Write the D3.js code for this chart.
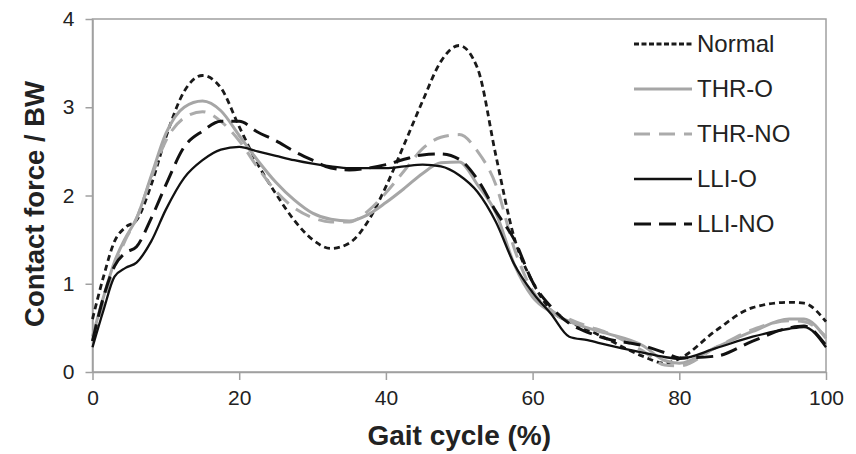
<!DOCTYPE html>
<html>
<head>
<meta charset="utf-8">
<script src="https://cdn.jsdelivr.net/npm/d3@7"></script>
<style>
  body { margin: 0; background: #fff; }
  svg text { font-family: "Liberation Sans", Arial, sans-serif; }
</style>
</head>
<body>
<div id="chart"></div>
<script>
// gait cycle positions (%)
var gait = [0, 1.5, 3, 4.5, 6, 8, 10, 12.5, 15, 17.5, 20, 22.5, 25, 27.5, 30, 32.5, 35, 37.5, 40,
            42.5, 45, 47.5, 50, 52.5, 55, 57.5, 60, 62.5, 65, 67.5, 70, 75, 78, 80, 85, 90, 95, 97, 100];

// contact force / BW for each group
var normal = [0.60, 1.08, 1.48, 1.64, 1.72, 2.12, 2.66, 3.18, 3.36, 3.22, 2.78, 2.36, 2.02, 1.72, 1.50, 1.40, 1.46, 1.70, 2.10,
              2.58, 3.07, 3.52, 3.70, 3.44, 2.45, 1.52, 1.02, 0.70, 0.57, 0.48, 0.38, 0.18, 0.10, 0.15, 0.47, 0.73, 0.79, 0.78, 0.57];
var thrO   = [0.40, 0.85, 1.25, 1.52, 1.74, 2.22, 2.70, 3.00, 3.07, 2.96, 2.68, 2.40, 2.15, 1.95, 1.80, 1.73, 1.71, 1.78, 1.92,
              2.08, 2.25, 2.37, 2.38, 2.12, 1.80, 1.22, 0.85, 0.68, 0.57, 0.50, 0.44, 0.30, 0.13, 0.10, 0.28, 0.46, 0.60, 0.60, 0.38];
var thrNO  = [0.35, 0.80, 1.20, 1.50, 1.74, 2.20, 2.62, 2.88, 2.95, 2.84, 2.62, 2.32, 2.05, 1.86, 1.75, 1.70, 1.70, 1.82, 2.03,
              2.28, 2.53, 2.66, 2.69, 2.50, 2.12, 1.40, 0.92, 0.70, 0.60, 0.52, 0.45, 0.24, 0.08, 0.07, 0.28, 0.48, 0.58, 0.57, 0.40];
var lliO   = [0.28, 0.70, 1.08, 1.18, 1.24, 1.48, 1.84, 2.20, 2.40, 2.52, 2.55, 2.50, 2.45, 2.40, 2.36, 2.33, 2.31, 2.31, 2.31,
              2.33, 2.35, 2.33, 2.23, 2.04, 1.70, 1.22, 0.90, 0.66, 0.40, 0.36, 0.31, 0.22, 0.17, 0.15, 0.27, 0.40, 0.49, 0.51, 0.28];
var lliNO  = [0.35, 0.85, 1.20, 1.35, 1.42, 1.74, 2.12, 2.55, 2.73, 2.84, 2.84, 2.72, 2.62, 2.50, 2.40, 2.31, 2.29, 2.31, 2.35,
              2.41, 2.46, 2.47, 2.41, 2.18, 1.82, 1.50, 1.02, 0.74, 0.55, 0.45, 0.38, 0.30, 0.22, 0.16, 0.18, 0.35, 0.50, 0.52, 0.30];

var seriesNames = ["Normal", "THR-O", "THR-NO", "LLI-O", "LLI-NO"];
var xTicks = [0, 20, 40, 60, 80, 100];
var yTicks = [0, 1, 2, 3, 4];

var styles = {
  "Normal": {color: "#1a1a1a", width: 2.8, dash: "6,4"},
  "THR-O":  {color: "#a6a6a6", width: 3,   dash: null},
  "THR-NO": {color: "#ababab", width: 3,   dash: "16,9"},
  "LLI-O":  {color: "#111",    width: 2.3, dash: null},
  "LLI-NO": {color: "#111",    width: 3,   dash: "17,8"}
};

var allSeries = [normal, thrO, thrNO, lliO, lliNO].map(function(vals, i) {
  return {key: seriesNames[i], values: vals.map(function(v, j) { return [gait[j], v]; })};
});

var width = 856, height = 454;
var margin = {top: 19, right: 30, bottom: 82, left: 92.5};

var svg = d3.select("#chart")
  .append("svg")
  .attr("width", width)
  .attr("height", height);

var x = d3.scaleLinear()
  .domain([0, 100])
  .range([margin.left, width - margin.right]);

var y = d3.scaleLinear()
  .domain([0, 4])
  .range([height - margin.bottom, margin.top]);

// frame
svg.append("rect")
  .attr("x", x(0)).attr("y", y(4))
  .attr("width", x(100) - x(0)).attr("height", y(0) - y(4))
  .attr("fill", "none")
  .attr("stroke", "#a0a0a0")
  .attr("stroke-width", 1.5);

// axes
var xAxis = svg.append("g")
  .attr("transform", "translate(0," + y(0) + ")")
  .call(d3.axisBottom(x).tickValues(xTicks).tickFormat(d3.format("d"))
    .tickSize(8).tickSizeOuter(0).tickPadding(10));
var yAxis = svg.append("g")
  .attr("transform", "translate(" + x(0) + ",0)")
  .call(d3.axisLeft(y).tickValues(yTicks).tickFormat(d3.format("d"))
    .tickSize(7).tickSizeOuter(0).tickPadding(11));

[xAxis, yAxis].forEach(function(g) {
  g.select(".domain").attr("stroke", "#a0a0a0").attr("stroke-width", 1.5);
  g.selectAll(".tick line").attr("stroke", "#a0a0a0").attr("stroke-width", 1.5);
  g.selectAll(".tick text")
    .attr("fill", "#222")
    .style("font-size", "21px")
    .style("font-family", "'Liberation Sans', Arial, sans-serif");
});

// axis titles
svg.append("text")
  .attr("x", (x(0) + x(100)) / 2)
  .attr("y", 445)
  .attr("text-anchor", "middle")
  .attr("font-weight", "bold")
  .attr("font-size", "28px")
  .attr("fill", "#222")
  .text("Gait cycle (%)");

svg.append("text")
  .attr("transform", "translate(44," + 204 + ") rotate(-90)")
  .attr("text-anchor", "middle")
  .attr("font-weight", "bold")
  .attr("font-size", "27.5px")
  .attr("fill", "#222")
  .text("Contact force / BW");

// lines
var line = d3.line()
  .curve(d3.curveMonotoneX)
  .x(function(d) { return x(d[0]); })
  .y(function(d) { return y(d[1]); });

svg.selectAll("path.series")
  .data(allSeries)
  .enter()
  .append("path")
    .attr("class", "series")
    .attr("fill", "none")
    .attr("stroke", function(d) { return styles[d.key].color; })
    .attr("stroke-width", function(d) { return styles[d.key].width; })
    .attr("stroke-dasharray", function(d) { return styles[d.key].dash; })
    .attr("d", function(d) { return line(d.values); });

// legend
var legend = svg.selectAll("g.legend")
  .data(seriesNames)
  .enter()
  .append("g")
    .attr("class", "legend")
    .attr("transform", function(d, i) { return "translate(634," + (44 + i * 45) + ")"; });

legend.append("line")
  .attr("x1", 0).attr("x2", 58)
  .attr("stroke", function(d) { return styles[d].color; })
  .attr("stroke-width", function(d) { return styles[d].width; })
  .attr("stroke-dasharray", function(d) { return d === "Normal" ? "5,2.5" : styles[d].dash; });

legend.append("text")
  .attr("x", 63)
  .attr("dy", "0.35em")
  .attr("font-size", "24px")
  .attr("fill", "#222")
  .text(function(d) { return d; });
</script>
</body>
</html>
